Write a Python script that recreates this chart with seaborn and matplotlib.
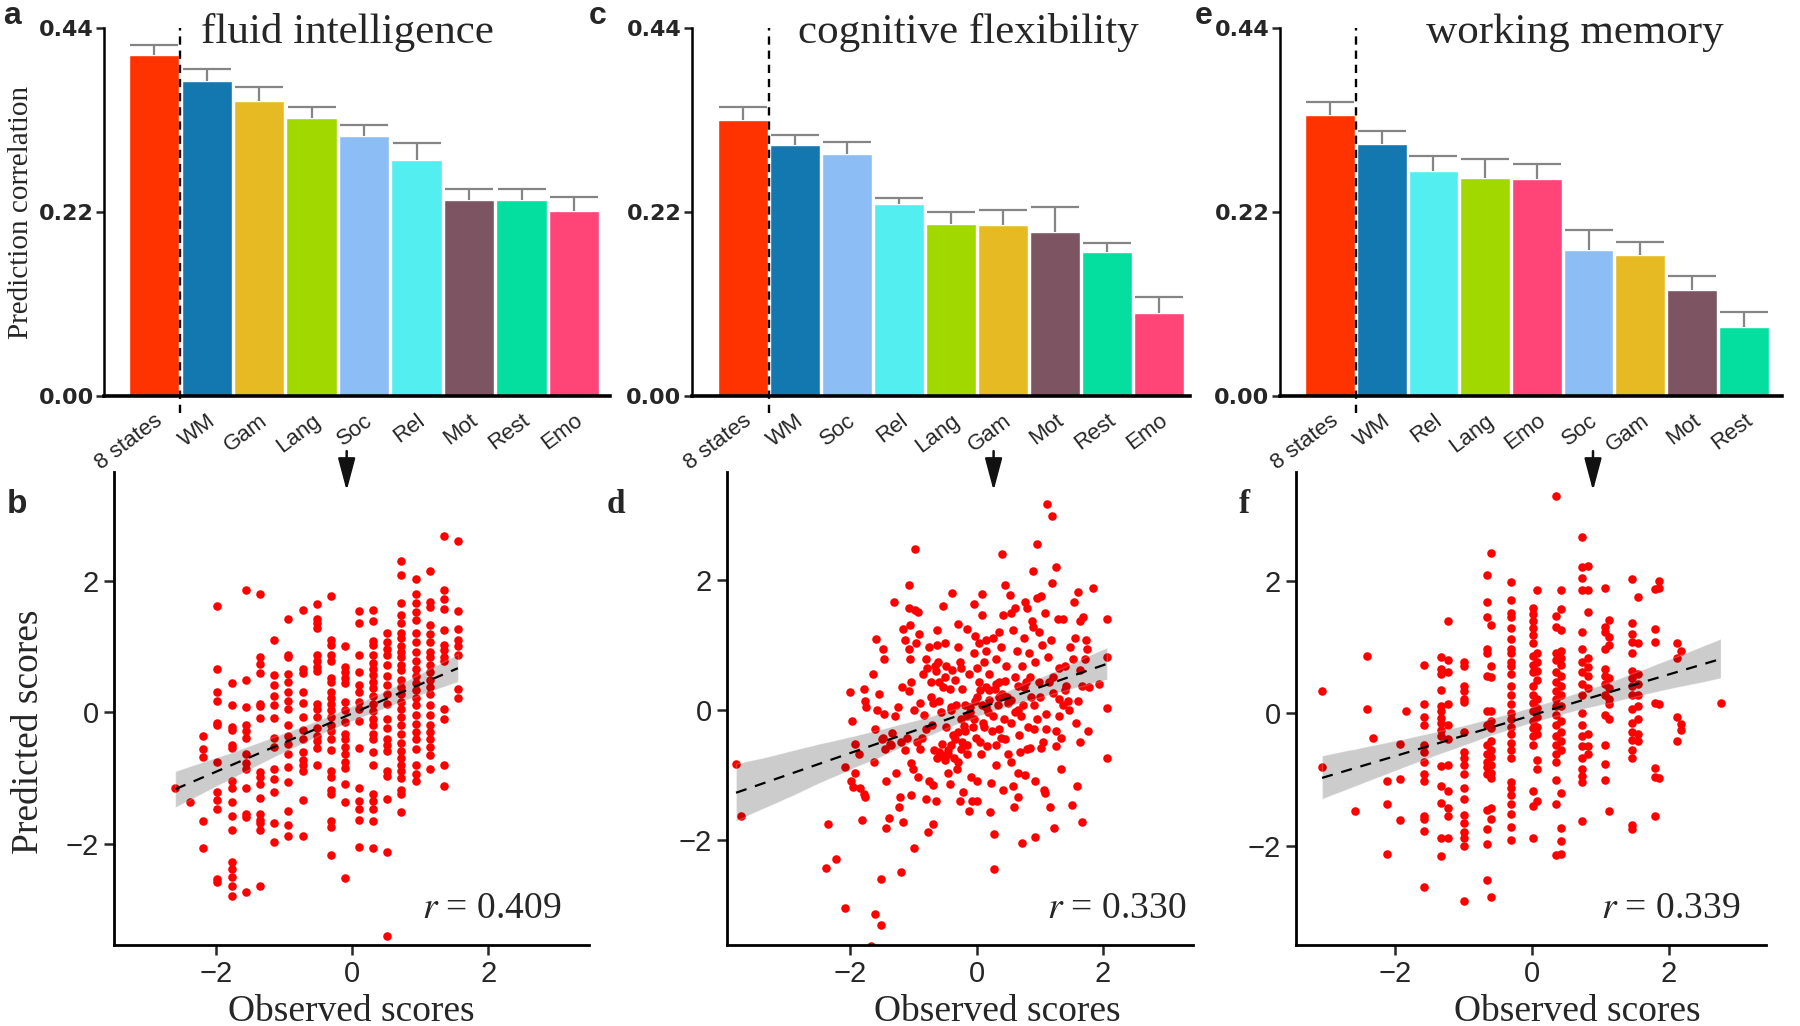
import numpy as np
import pandas as pd
import seaborn as sns
import matplotlib.pyplot as plt
from matplotlib.patches import FancyArrowPatch
from matplotlib.collections import PolyCollection
from matplotlib.transforms import ScaledTranslation


# ---- Balken: Vorhersage-Korrelation je Zustand ----
fluid_states = ['8 states', 'WM', 'Gam', 'Lang', 'Soc', 'Rel', 'Mot', 'Rest', 'Emo']
fluid_r = [0.408, 0.377, 0.353, 0.333, 0.311, 0.282, 0.234, 0.234, 0.221]
fluid_err = [0.012, 0.014, 0.016, 0.013, 0.013, 0.020, 0.013, 0.013, 0.017]

cog_states = ['8 states', 'WM', 'Soc', 'Rel', 'Lang', 'Gam', 'Mot', 'Rest', 'Emo']
cog_r = [0.330, 0.300, 0.289, 0.230, 0.206, 0.204, 0.196, 0.172, 0.099]
cog_err = [0.015, 0.012, 0.015, 0.007, 0.014, 0.018, 0.030, 0.011, 0.020]

wm_states = ['8 states', 'WM', 'Rel', 'Lang', 'Emo', 'Soc', 'Gam', 'Mot', 'Rest']
wm_r = [0.336, 0.301, 0.269, 0.261, 0.260, 0.174, 0.169, 0.127, 0.082]
wm_err = [0.016, 0.016, 0.018, 0.022, 0.018, 0.025, 0.015, 0.017, 0.019]

state_colors = {'8 states': '#FF3300', 'WM': '#1478B0', 'Gam': '#E6BA22',
                'Lang': '#A0D800', 'Soc': '#8DBDF5', 'Rel': '#52EEF0',
                'Mot': '#7D5461', 'Rest': '#04DE9E', 'Emo': '#FF4577'}

# ---- Scatter: beobachtete vs. vorhergesagte Scores ----
# fluid intelligence: Spalten (beobachteter Wert) + vorhergesagte Werte je Spalte
fluid_obs_cols = [-2.60, -2.39, -2.19, -1.98, -1.77, -1.56, -1.36, -1.15, -0.94, -0.73, -0.52,
                  -0.31, -0.11, 0.10, 0.30, 0.51, 0.72, 0.93, 1.14, 1.35, 1.55]
fluid_pred_cols = [
    [-1.15],
    [-1.37],
    [-0.37, -0.56, -0.69, -1.65, -2.07],
    [1.61, 0.66, 0.31, 0.17, -0.17, -0.20, -0.76, -1.21, -1.34, -1.47, -2.53, -2.59],
    [0.44, 0.10, -0.23, -0.28, -0.50, -0.55, -1.05, -1.15, -1.37, -1.58, -1.80, -2.28, -2.39, -2.50, -2.64, -2.79],
    [1.86, 0.49, 0.07, -0.20, -0.29, -0.39, -0.64, -0.78, -0.87, -1.15, -1.55, -1.60, -2.73],
    [1.80, 0.84, 0.73, 0.60, 0.13, 0.09, -0.09, -0.91, -0.98, -1.10, -1.31, -1.55, -1.64, -1.69, -1.80, -2.64],
    [1.09, 0.57, 0.41, 0.24, 0.10, -0.09, -0.39, -0.53, -0.86, -1.01, -1.22, -1.69, -1.98],
    [1.41, 0.86, 0.84, 0.58, 0.45, 0.31, 0.17, 0.04, -0.19, -0.37, -0.48, -0.64, -0.84, -1.07, -1.51, -1.71, -1.89],
    [1.55, 0.65, 0.60, 0.31, 0.14, -0.07, -0.27, -0.41, -0.60, -0.73, -0.81, -0.90, -1.34, -1.88],
    [1.65, 1.42, 1.35, 1.28, 0.86, 0.78, 0.69, 0.62, 0.13, 0.04, -0.07, -0.24, -0.36, -0.44, -0.54, -0.81],
    [1.76, 1.10, 1.02, 0.86, 0.77, 0.52, 0.45, 0.31, 0.21, 0.12, 0.03, -0.07, -0.19, -0.29, -0.41, -0.57,
     -0.90, -0.98, -1.18, -1.24, -1.66, -1.75, -2.18],
    [1.01, 0.68, 0.61, 0.52, 0.44, 0.15, 0.03, -0.15, -0.33, -0.41, -0.53, -0.64, -0.76, -0.85, -1.09, -1.37, -2.52],
    [1.53, 1.36, 0.87, 0.61, 0.41, 0.31, 0.15, 0.04, -0.13, -0.55, -1.15, -1.35, -1.47, -1.64, -2.05],
    [1.55, 1.38, 1.08, 1.02, 0.86, 0.75, 0.65, 0.56, 0.45, 0.37, 0.24, 0.13, 0.02, -0.10, -0.20, -0.33,
     -0.41, -0.60, -0.80, -1.24, -1.35, -1.48, -1.65, -2.07],
    [1.20, 1.06, 0.96, 0.86, 0.72, 0.55, 0.41, 0.27, 0.13, -0.10, -0.24, -0.41, -0.50, -0.59, -0.90, -0.97,
     -1.32, -2.13, -3.40],
    [2.30, 2.09, 1.66, 1.48, 1.35, 1.20, 1.12, 1.01, 0.92, 0.84, 0.72, 0.64, 0.49, 0.38, 0.27, 0.15, 0.04,
     -0.07, -0.19, -0.33, -0.47, -0.59, -0.70, -0.81, -0.90, -1.00, -1.18, -1.24, -1.52],
    [2.03, 1.80, 1.66, 1.52, 1.40, 1.20, 1.06, 0.92, 0.78, 0.65, 0.55, 0.44, 0.34, 0.21, 0.10, -0.05,
     -0.18, -0.30, -0.41, -0.56, -0.81, -0.94, -1.05],
    [2.14, 1.68, 1.60, 1.32, 1.18, 1.06, 0.92, 0.84, 0.72, 0.61, 0.49, 0.38, 0.27, 0.10, -0.05, -0.19,
     -0.30, -0.41, -0.53, -0.66, -0.86],
    [2.67, 1.86, 1.72, 1.57, 1.25, 1.02, 0.95, 0.84, 0.77, 0.04, -0.10, -0.81, -1.13],
    [2.60, 1.53, 1.26, 1.09, 1.01, 0.86, 0.35, 0.21],
]

# cognitive flexibility: kontinuierliche Werte als (beobachtet, vorhergesagt)
cog_points = [
    (-3.81, -0.84), (-3.73, -1.64), (-2.39, -2.43), (-2.35, -1.76), (-2.22, -2.29), (-2.08, -3.05),
    (-2.01, 0.27), (-1.97, -0.18), (-2.08, -0.88), (-1.99, -1.09), (-1.96, -1.19), (-1.92, -0.97),
    (-1.93, -0.53), (-1.86, -0.68), (-1.85, -1.20), (-1.81, -1.70), (-1.78, -1.29), (-1.77, -1.35),
    (-1.78, 0.32), (-1.77, 0.14), (-1.75, 0.05), (-1.61, -3.15), (-1.67, -3.63), (-1.51, -3.31),
    (-1.51, -2.61), (-1.64, 0.55), (-1.59, 1.09), (-1.61, -0.30), (-1.63, -0.80), (-1.55, 0.25),
    (-1.58, 0.00), (-1.49, 0.94), (-1.46, 0.78), (-1.46, -0.06), (-1.48, -0.44), (-1.43, -1.09),
    (-1.43, -1.82), (-1.39, -1.67), (-1.37, -0.53), (-1.31, 1.66), (-1.34, -0.36), (-1.28, -0.97),
    (-1.25, 0.05), (-1.23, -1.50), (-1.22, -1.35), (-1.20, -2.49), (-1.19, 0.35), (-1.16, 1.25),
    (-1.16, -1.73), (-1.14, 1.08), (-1.14, -0.62), (-1.11, -0.44), (-1.08, 0.93), (-1.08, 0.29),
    (-1.07, 1.92), (-1.07, 1.57), (-1.05, 1.31), (-1.05, 0.78), (-1.04, 0.43), (-1.04, -1.31),
    (-1.04, -0.82), (-1.01, -0.91), (-0.99, -2.13), (-0.98, 2.48), (-0.98, 1.54), (-0.96, 1.02),
    (-0.95, -0.50), (-0.93, 1.51), (-0.93, -1.03), (-0.92, 1.16), (-0.90, 0.11), (-0.87, -0.44),
    (-0.84, -0.08), (-0.81, -1.38), (-0.80, 0.78), (-0.78, 0.64), (-0.77, -1.88), (-0.75, 0.96),
    (-0.75, -1.09), (-0.73, 0.20), (-0.72, 0.43), (-0.71, -0.24), (-0.70, -1.76), (-0.69, -1.16),
    (-0.67, -0.62), (-0.66, 0.67), (-0.64, -1.40), (-0.63, 1.22), (-0.63, 0.99), (-0.63, -0.74),
    (-0.61, 0.73), (-0.60, 0.43), (-0.59, 0.14), (-0.57, -0.04), (-0.55, -0.53), (-0.54, 1.60),
    (-0.53, 0.35), (-0.51, 1.02), (-0.49, -0.27), (-0.48, 0.67), (-0.46, -0.62), (-0.45, -0.97),
    (-0.43, -1.15), (-0.42, 0.32), (-0.41, -0.01), (-0.39, 1.79), (-0.39, 0.61), (-0.37, -0.39),
    (-0.36, -0.74), (-0.35, 0.46), (-0.33, 0.08), (-0.31, -0.91), (-0.30, 1.32), (-0.29, 0.96),
    (-0.27, 0.73), (-0.27, -1.41), (-0.25, -0.15), (-0.24, -0.50), (-0.23, 0.32), (-0.21, -1.26),
    (-0.19, 0.08), (-0.18, -0.33), (-0.15, 1.25), (-0.15, -0.68), (-0.13, 0.55), (-0.12, -1.56),
    (-0.11, -0.04), (-0.09, -1.03), (-0.07, -1.41), (-0.06, -0.27), (-0.05, 1.63), (-0.04, 0.87),
    (-0.03, 1.13), (-0.02, 0.14), (-0.01, -0.44), (0.00, -1.41), (0.01, -1.09), (0.03, 1.02),
    (0.04, 0.43), (0.06, -0.68), (0.08, 1.46), (0.09, 1.78), (0.09, 0.08), (0.11, -0.27),
    (0.12, 0.73), (0.14, 1.08), (0.15, 0.35), (0.17, -0.56), (0.18, -0.04), (0.19, 0.55),
    (0.21, -1.58), (0.23, -1.12), (0.24, -0.33), (0.25, 1.11), (0.27, -1.91), (0.28, -2.45),
    (0.29, 0.32), (0.30, 0.78), (0.31, -0.85), (0.33, 0.08), (0.35, 1.19), (0.36, 0.43),
    (0.38, -0.44), (0.39, 0.96), (0.40, 2.39), (0.41, 1.46), (0.42, -1.23), (0.43, -0.15),
    (0.45, 1.92), (0.47, 0.67), (0.48, 0.20), (0.50, -0.68), (0.53, 1.77), (0.54, -0.80),
    (0.55, 1.49), (0.57, 1.22), (0.57, -1.18), (0.59, -1.50), (0.60, -0.04), (0.61, 1.57),
    (0.63, 0.90), (0.65, -1.35), (0.65, 0.37), (0.66, -0.97), (0.67, -0.39), (0.69, -0.65),
    (0.71, 0.67), (0.72, -2.05), (0.73, 0.08), (0.75, 1.11), (0.77, 1.66), (0.77, -1.00),
    (0.78, 0.43), (0.80, 1.57), (0.81, -0.27), (0.83, 0.87), (0.84, -0.59), (0.86, 0.20),
    (0.87, 1.37), (0.89, 2.13), (0.89, 1.28), (0.90, 0.08), (0.92, 0.73), (0.93, -1.09),
    (0.93, -1.96), (0.95, 2.55), (0.95, -0.15), (0.96, 1.72), (0.98, 0.43), (0.99, 1.19),
    (1.01, -0.59), (1.02, 1.75), (1.04, 0.99), (1.05, -0.50), (1.07, -1.23), (1.08, -1.28),
    (1.08, 1.49), (1.10, -0.06), (1.11, 3.17), (1.13, 0.81), (1.14, 0.43), (1.16, -1.50),
    (1.17, 1.08), (1.19, 2.98), (1.19, 1.95), (1.20, 0.26), (1.23, -1.82), (1.25, -0.56),
    (1.26, 2.20), (1.26, -0.33), (1.28, 1.40), (1.30, 0.17), (1.31, 0.64), (1.33, -0.44),
    (1.34, -0.91), (1.37, 1.40), (1.37, 0.08), (1.39, 0.67), (1.42, 0.37), (1.45, 0.14),
    (1.46, -0.01), (1.48, 0.96), (1.51, -1.47), (1.52, 0.78), (1.54, 1.66), (1.55, 1.11),
    (1.57, -0.21), (1.58, -1.18), (1.60, 0.14), (1.61, 1.81), (1.63, 1.37), (1.63, -0.50),
    (1.64, 0.61), (1.66, -1.73), (1.67, 0.37), (1.69, 1.43), (1.72, 0.78), (1.73, 1.08),
    (1.75, 0.93), (1.76, -0.33), (1.78, 0.35), (1.84, 1.88), (1.93, 0.40), (2.06, 1.40),
    (2.06, 0.81), (2.06, 0.02), (2.06, -0.75),
    (-0.60, -0.65), (-0.55, -0.70), (-0.50, -0.78), (-0.45, -0.68), (-0.40, -0.55), (-0.35, -0.45),
    (-0.30, -0.35), (-0.25, -0.60), (-0.20, -0.25), (-0.15, -0.10), (-0.10, 0.05), (-0.05, -0.15),
    (0.00, 0.20), (0.05, 0.30), (0.10, -0.20), (0.15, 0.05), (0.20, 0.30), (0.25, -0.10),
    (0.30, 0.40), (0.35, -0.30), (0.40, 0.25), (0.45, -0.45), (0.50, 0.10), (0.55, -0.20),
    (0.60, 0.50), (0.70, -0.10), (0.75, 0.35), (0.80, -0.60), (0.85, 0.50), (0.90, -0.30),
    (-0.70, 0.10), (-0.80, -0.30), (-0.85, 0.55), (-0.90, -0.60), (-1.00, 0.00), (-1.20, -0.50),
    (-1.30, -0.10), (-1.45, -0.60), (-1.50, -0.45), (-1.35, -0.55), (-0.65, 0.60), (-0.50, 0.50),
    (-0.40, 0.05), (-0.30, -0.80), (0.05, -0.50), (0.20, 0.15), (0.30, -0.55), (0.45, 0.45),
    (0.65, 0.00), (1.00, 0.20), (1.10, -0.30), (1.20, 0.50), (1.30, -0.10), (1.40, 0.30),
    (-0.25, 0.65), (0.00, 0.65), (0.15, 0.90), (-0.15, -0.55), (0.35, 0.20), (0.55, 0.15),
]

# working memory: Spalten + vorhergesagte Werte
wm_obs_cols = [-3.06, -2.58, -2.40, -2.32, -2.12, -1.92, -1.84, -1.57, -1.32, -1.23, -0.99, -0.65,
               -0.59, -0.31, 0.02, 0.08, 0.35, 0.42, 0.73, 0.82, 1.06, 1.13, 1.46, 1.54, 1.80, 1.86,
               2.11, 2.17, 2.75]
wm_pred_cols = [
    [0.34, -0.81],
    [-1.48],
    [0.87, 0.06],
    [-0.37],
    [-1.02, -1.37, -2.12],
    [-0.46, -0.99, -1.61],
    [0.04],
    [0.73, 0.14, -0.06, -0.17, -0.48, -0.59, -0.73, -0.92, -1.02, -1.55, -1.60, -1.78, -2.63],
    [0.85, 0.67, 0.59, 0.36, 0.11, 0.03, -0.07, -0.14, -0.25, -0.34, -0.80, -1.10, -1.36, -1.88, -2.15],
    [1.40, 0.80, 0.62, 0.14, -0.18, -0.39, -0.78, -1.17, -1.43, -1.55, -1.88],
    [0.78, 0.72, 0.42, 0.34, 0.22, 0.17, -0.28, -0.59, -0.67, -0.78, -0.92, -1.12, -1.29, -1.54,
     -1.65, -1.79, -1.89, -2.00, -2.83],
    [2.09, 1.68, 1.46, 0.98, 0.92, 0.56, 0.03, -0.17, -0.48, -0.62, -0.73, -0.81, -0.92, -1.46,
     -1.74, -1.97, -2.52],
    [2.42, 1.34, 0.72, 0.55, 0.03, -0.11, -0.22, -0.42, -0.56, -0.66, -0.78, -0.90, -0.98, -1.43,
     -1.60, -2.77],
    [1.98, 1.71, 1.52, 1.46, 1.29, 1.12, 0.98, 0.91, 0.78, 0.72, 0.59, 0.42, 0.28, 0.14, 0.00, -0.08,
     -0.20, -0.31, -0.45, -0.56, -0.67, -1.04, -1.12, -1.23, -1.37, -1.52, -1.71, -1.92],
    [1.60, 1.51, 1.40, 1.29, 1.18, 1.06, 0.87, 0.73, 0.62, 0.42, 0.28, 0.16, 0.03, -0.11, -0.22,
     -0.34, -0.48, -1.17, -1.40, -1.88],
    [1.87, 0.92, 0.78, 0.64, 0.50, 0.22, 0.08, -0.06, -0.20, -0.31, -0.70, -0.84, -1.32],
    [3.29, 1.48, 1.30, 0.92, 0.81, 0.62, 0.48, 0.34, 0.22, 0.11, -0.03, -0.17, -0.34, -0.48, -0.62,
     -0.73, -1.01, -1.37, -2.14],
    [1.87, 1.58, 1.26, 0.95, 0.84, 0.73, 0.56, 0.42, 0.28, 0.11, -0.11, -0.28, -0.42, -0.56, -1.20,
     -1.73, -1.93, -2.12],
    [2.67, 2.21, 2.04, 1.86, 1.23, 0.98, 0.78, 0.62, 0.45, 0.28, 0.00, -0.17, -0.34, -0.50, -0.67,
     -0.84, -0.95, -1.04, -1.62],
    [2.23, 1.86, 1.54, 0.84, 0.70, 0.56, 0.39, -0.31, -0.50, -0.62],
    [1.89, 1.30, 1.23, 0.98, 0.67, 0.56, 0.45, 0.28, -0.03, -0.48, -0.77, -1.00],
    [1.41, 1.15, 1.04, 0.53, 0.39, 0.22, 0.14, -0.08, -1.48],
    [2.03, 1.36, 1.20, 1.08, 0.92, 0.64, 0.53, 0.42, 0.28, 0.06, -0.14, -0.28, -0.40, -0.55, -0.67,
     -1.68, -1.74],
    [1.76, 1.06, 0.59, 0.45, 0.28, 0.11, -0.08, -0.31, -0.42],
    [1.88, 1.28, 1.08, 0.16, -0.83, -0.96, -1.55],
    [2.00, 1.90, 0.14, -0.98],
    [1.06, 0.84, -0.06, -0.42],
    [0.95, -0.16, -0.25],
    [0.16],
]

fluid_scores = pd.DataFrame({
    'observed': np.repeat(fluid_obs_cols, [len(c) for c in fluid_pred_cols]),
    'predicted': np.concatenate(fluid_pred_cols)})
cog_scores = pd.DataFrame(cog_points, columns=['observed', 'predicted'])
wm_scores = pd.DataFrame({
    'observed': np.repeat(wm_obs_cols, [len(c) for c in wm_pred_cols]),
    'predicted': np.concatenate(wm_pred_cols)})

# ---- Stil ----
sns.set_style('ticks')
plt.rcParams['font.family'] = ['Liberation Sans', 'DejaVu Sans']
plt.rcParams['axes.edgecolor'] = 'black'
plt.rcParams['mathtext.fontset'] = 'stix'
SERIF = ['Liberation Serif', 'DejaVu Serif']

fig = plt.figure(figsize=(18, 10.26), dpi=100)
label_shift = ScaledTranslation(6 / 100, 2 / 100, fig.dpi_scale_trans)

bar_panels = [
    ('a', 'fluid intelligence', fluid_states, fluid_r, fluid_err,
     [0.058, 0.614, 0.281, 0.3587], (-0.95, 8.69), 0.193, 0.002),
    ('c', 'cognitive flexibility', cog_states, cog_r, cog_err,
     [0.3844, 0.614, 0.2768, 0.3587], (-0.98, 8.60), 0.538, 0.327),
    ('e', 'working memory', wm_states, wm_r, wm_err,
     [0.711, 0.614, 0.279, 0.3587], (-0.97, 8.74), 0.875, 0.664),
]

for i, (letter, title, states, vals, errs, box, xlim, title_x, letter_x) in enumerate(bar_panels):
    ax = fig.add_axes(box)
    sns.barplot(x=states, y=vals, hue=states, palette=state_colors, order=states,
                hue_order=states, legend=False, saturation=1, width=0.96,
                edgecolor='white', linewidth=1, ax=ax)
    x = np.arange(len(states))
    eb = ax.errorbar(x, vals, yerr=[np.zeros(len(vals)), errs], fmt='none',
                     ecolor='#858585', elinewidth=1.6, capsize=17, capthick=1.6, zorder=3)
    for cap in eb[1]:
        if np.allclose(cap.get_ydata(), vals):
            cap.set_visible(False)
    ax.plot([0.5, 0.5], [-0.02, 0.44], ls=(0, (3.5, 2.5)), color='black', lw=1.7,
            clip_on=False, zorder=4)
    ax.set_xlim(*xlim)
    ax.set_ylim(0, 0.44)
    ax.set_yticks([0, 0.22, 0.44])
    ax.set_yticklabels(['0.00', '0.22', '0.44'], fontsize=16, fontweight='bold',
                       family='DejaVu Sans')
    ax.set_xticks(x)
    ax.set_xticklabels(states, fontsize=16, rotation=37, ha='right', va='top',
                       rotation_mode='anchor')
    for lbl in ax.get_xticklabels():
        lbl.set_transform(lbl.get_transform() + label_shift)
    ax.tick_params(axis='x', length=0, pad=10)
    ax.tick_params(axis='y', length=6, width=1.8, pad=1.5)
    sns.despine(ax=ax)
    ax.spines['left'].set_linewidth(1.8)
    ax.spines['bottom'].set_linewidth(2.6)
    ax.set_xlabel('')
    if i == 0:
        ax.set_ylabel('Prediction correlation', fontsize=21, family=SERIF)
        ax.yaxis.set_label_coords(-0.165, 0.5)
        ax.yaxis.label.set_verticalalignment('center')
    fig.text(title_x, 0.958, title, fontsize=31, family=SERIF, ha='center', va='baseline')
    fig.text(letter_x, 0.977, letter, fontsize=23, fontweight='bold', va='baseline')

scatter_panels = [
    ('b', fluid_scores, '0.409', [0.0633, 0.079, 0.2637, 0.461], (-3.50, 3.47), (-3.54, 3.65),
     0.943, 0.50, 0.004, 'sans', 0.1926),
    ('d', cog_scores, '0.330', [0.404, 0.079, 0.259, 0.461], (-3.95, 3.43), (-3.62, 3.66),
     0.985, 0.579, 0.337, 'serif', 0.552),
    ('f', wm_scores, '0.339', [0.720, 0.079, 0.261, 0.461], (-3.44, 3.41), (-3.50, 3.65),
     0.945, 0.598, 0.688, 'serif', 0.885),
]

for i, (letter, df, rval, box, xlim, ylim, rx, labx, letter_x, lfont, arrow_x) in enumerate(scatter_panels):
    ax = fig.add_axes(box)
    sns.regplot(data=df, x='observed', y='predicted', ax=ax, color='black', ci=95, seed=1,
                scatter_kws=dict(color='#FF0000', s=38, linewidths=0, alpha=1, zorder=2),
                line_kws=dict(color='black', ls=(0, (5, 4)), lw=1.6, zorder=4))
    for coll in ax.collections:
        if isinstance(coll, PolyCollection):
            coll.set_alpha(0.2)
            coll.set_zorder(3)
    ax.set_xlim(*xlim)
    ax.set_ylim(*ylim)
    ax.set_xticks([-2, 0, 2])
    ax.set_yticks([-2, 0, 2])
    ax.tick_params(labelsize=21, length=7, width=1.8, pad=4)
    sns.despine(ax=ax)
    for s in ('left', 'bottom'):
        ax.spines[s].set_linewidth(2)
    ax.set_xlabel('Observed scores', fontsize=27, family=SERIF)
    ax.xaxis.set_label_coords(labx, -0.105)
    if i == 0:
        ax.set_ylabel('Predicted scores', fontsize=27, family=SERIF)
        ax.yaxis.set_label_coords(-0.18, 0.45)
        ax.yaxis.label.set_verticalalignment('center')
    else:
        ax.set_ylabel('')
    ax.text(rx, 0.057, r'$\mathit{r}$ = ' + rval, transform=ax.transAxes,
            fontsize=27, family=SERIF, ha='right', va='baseline')
    fam = ['Liberation Sans'] if lfont == 'sans' else SERIF
    fig.text(letter_x, 0.50, letter, fontsize=24, fontweight='bold', family=fam, va='baseline')
    fig.add_artist(FancyArrowPatch((arrow_x, 0.563), (arrow_x, 0.519), transform=fig.transFigure,
                                   arrowstyle='-|>,head_length=0.9,head_width=0.24',
                                   mutation_scale=22, lw=1.8, color='#111111'))

fig.savefig('out.png', dpi=100)
plt.close(fig)
